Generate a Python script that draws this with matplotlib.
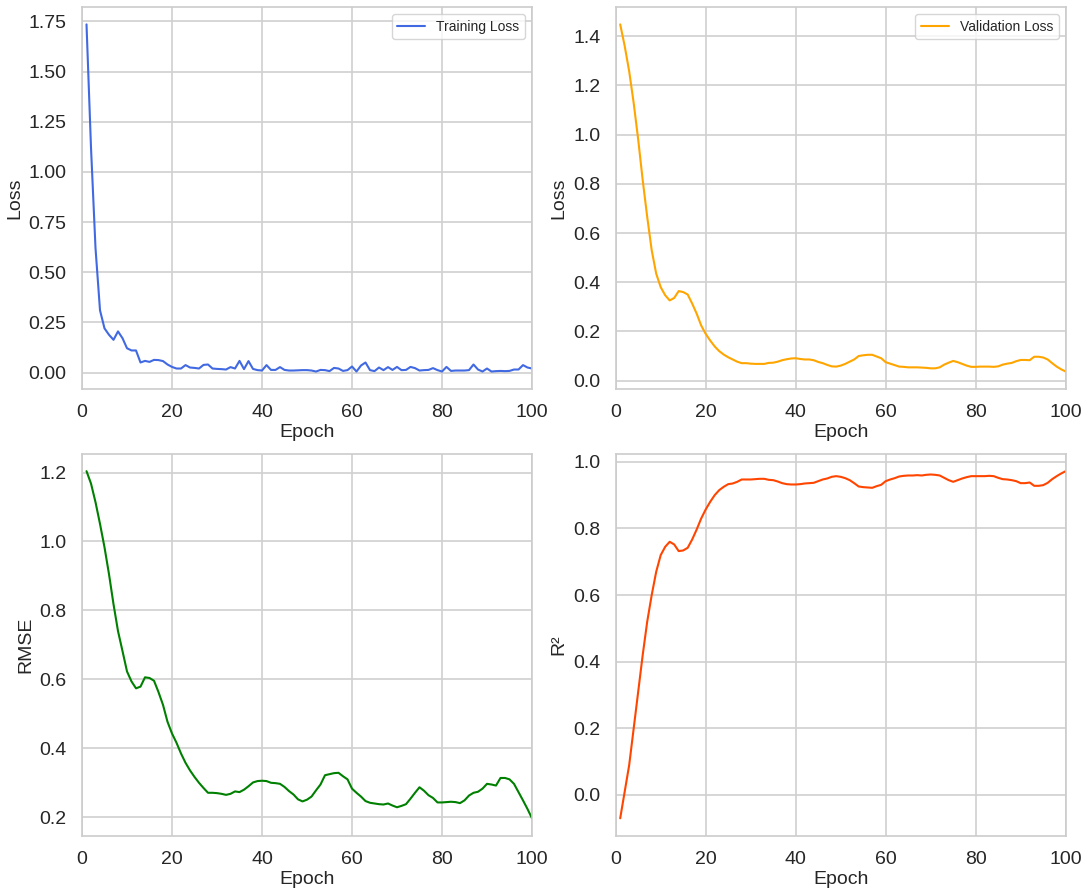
import numpy as np
import matplotlib
matplotlib.use("Agg")
import matplotlib.pyplot as plt
import seaborn as sns

sns.set_theme(style="whitegrid")
plt.rcParams['font.family'] = ['Liberation Sans', 'DejaVu Sans']

epochs = list(range(1, 101))

train_loss = [
    1.735, 1.12, 0.62, 0.31, 0.22, 0.188, 0.163, 0.205, 0.171, 0.121,
    0.11, 0.11, 0.05, 0.058, 0.053, 0.063, 0.062, 0.057, 0.04, 0.028,
    0.02, 0.02, 0.037, 0.025, 0.023, 0.02, 0.038, 0.04, 0.02, 0.018,
    0.017, 0.015, 0.027, 0.02, 0.058, 0.017, 0.057, 0.018, 0.012, 0.01,
    0.037, 0.013, 0.013, 0.027, 0.013, 0.01, 0.01, 0.011, 0.012, 0.012,
    0.01, 0.005, 0.013, 0.012, 0.007, 0.023, 0.02, 0.008, 0.012, 0.03,
    0.005, 0.035, 0.05, 0.012, 0.007, 0.025, 0.012, 0.027, 0.013, 0.028,
    0.012, 0.013, 0.028, 0.022, 0.01, 0.012, 0.013, 0.022, 0.012, 0.005,
    0.028, 0.008, 0.01, 0.01, 0.01, 0.012, 0.04, 0.015, 0.005, 0.02,
    0.005, 0.007, 0.008, 0.007, 0.008, 0.015, 0.015, 0.037, 0.025, 0.02,
]

val_loss = [
    1.448, 1.36, 1.257, 1.128, 0.98, 0.815, 0.666, 0.53, 0.435, 0.38,
    0.347, 0.326, 0.336, 0.364, 0.36, 0.35, 0.313, 0.272, 0.224, 0.19,
    0.163, 0.139, 0.12, 0.106, 0.095, 0.086, 0.077, 0.071, 0.071, 0.069,
    0.068, 0.068, 0.068, 0.072, 0.073, 0.077, 0.083, 0.087, 0.09, 0.091,
    0.088, 0.086, 0.086, 0.083, 0.076, 0.071, 0.064, 0.058, 0.057, 0.061,
    0.068, 0.077, 0.086, 0.1, 0.103, 0.105, 0.105, 0.098, 0.091, 0.075,
    0.069, 0.063, 0.057, 0.056, 0.054, 0.054, 0.054, 0.053, 0.052, 0.05,
    0.05, 0.054, 0.065, 0.073, 0.08, 0.075, 0.068, 0.061, 0.056, 0.056,
    0.057, 0.057, 0.057, 0.056, 0.058, 0.065, 0.069, 0.072, 0.079, 0.084,
    0.084, 0.083, 0.097, 0.097, 0.094, 0.086, 0.071, 0.057, 0.046, 0.037,
]

rmse = [
    1.204, 1.168, 1.114, 1.051, 0.983, 0.905, 0.818, 0.74, 0.682, 0.623,
    0.594, 0.574, 0.579, 0.606, 0.604, 0.596, 0.563, 0.526, 0.477, 0.443,
    0.416, 0.385, 0.358, 0.336, 0.317, 0.3, 0.285, 0.271, 0.271, 0.27,
    0.268, 0.265, 0.268, 0.275, 0.273, 0.28, 0.29, 0.301, 0.305, 0.306,
    0.305, 0.3, 0.299, 0.297, 0.288, 0.276, 0.266, 0.252, 0.246, 0.251,
    0.26, 0.278, 0.295, 0.322, 0.325, 0.328, 0.329, 0.319, 0.31, 0.283,
    0.271, 0.26, 0.247, 0.242, 0.24, 0.238, 0.237, 0.24, 0.234, 0.229,
    0.233, 0.238, 0.254, 0.271, 0.287, 0.277, 0.264, 0.256, 0.243, 0.243,
    0.244, 0.245, 0.244, 0.241, 0.249, 0.263, 0.271, 0.274, 0.283, 0.297,
    0.295, 0.292, 0.314, 0.314, 0.31, 0.297, 0.273, 0.249, 0.224, 0.197,
]

r2 = [
    -0.07, 0.01, 0.09, 0.2, 0.31, 0.42, 0.52, 0.6, 0.67, 0.72,
    0.745, 0.76, 0.752, 0.732, 0.734, 0.742, 0.767, 0.797, 0.83, 0.857,
    0.88, 0.9, 0.915, 0.925, 0.933, 0.935, 0.94, 0.947, 0.947, 0.947,
    0.948, 0.949, 0.949, 0.946, 0.945, 0.941, 0.936, 0.933, 0.932, 0.932,
    0.933, 0.935, 0.936, 0.937, 0.942, 0.947, 0.95, 0.955, 0.957, 0.955,
    0.951, 0.945, 0.936, 0.926, 0.924, 0.923, 0.922, 0.927, 0.931, 0.942,
    0.947, 0.951, 0.956, 0.958, 0.959, 0.959, 0.96, 0.959, 0.961, 0.962,
    0.961, 0.959, 0.952, 0.945, 0.94, 0.945, 0.95, 0.954, 0.957, 0.957,
    0.957, 0.957, 0.958, 0.957, 0.952, 0.948, 0.947, 0.945, 0.942, 0.936,
    0.936, 0.938, 0.928, 0.928, 0.93, 0.937, 0.948, 0.957, 0.965, 0.972,
]

fig, axes = plt.subplots(2, 2, figsize=(10.92, 8.89), dpi=100)
fig.subplots_adjust(left=0.0751, right=0.9759, bottom=0.0600, top=0.9921,
                    wspace=0.186, hspace=0.170)

panels = [
    (axes[0, 0], train_loss, 'royalblue', 'Loss', 'Training Loss'),
    (axes[0, 1], val_loss, 'orange', 'Loss', 'Validation Loss'),
    (axes[1, 0], rmse, 'green', 'RMSE', None),
    (axes[1, 1], r2, 'orangered', 'R²', None),
]

for ax, data, color, ylabel, label in panels:
    ax.plot(epochs, data, color=color, linewidth=1.5, label=label)
    ax.set_xlim(0, 100)
    ax.set_xticks([0, 20, 40, 60, 80, 100])
    ax.set_xlabel('Epoch', fontsize=14, labelpad=2)
    ax.set_ylabel(ylabel, fontsize=14, labelpad=4)
    ax.tick_params(labelsize=14, pad=5)
    for s in ax.spines.values():
        s.set_color('#cccccc')
        s.set_linewidth(1.2)
    ax.grid(color='#d0d0d0', linewidth=1.2)
    if label:
        ax.legend(loc='upper right', fontsize=10, frameon=True)

axes[1, 0].set_yticks([0.2, 0.4, 0.6, 0.8, 1.0, 1.2])
axes[1, 1].set_yticks([0.0, 0.2, 0.4, 0.6, 0.8, 1.0])

fig.savefig('out.png', dpi=100)
